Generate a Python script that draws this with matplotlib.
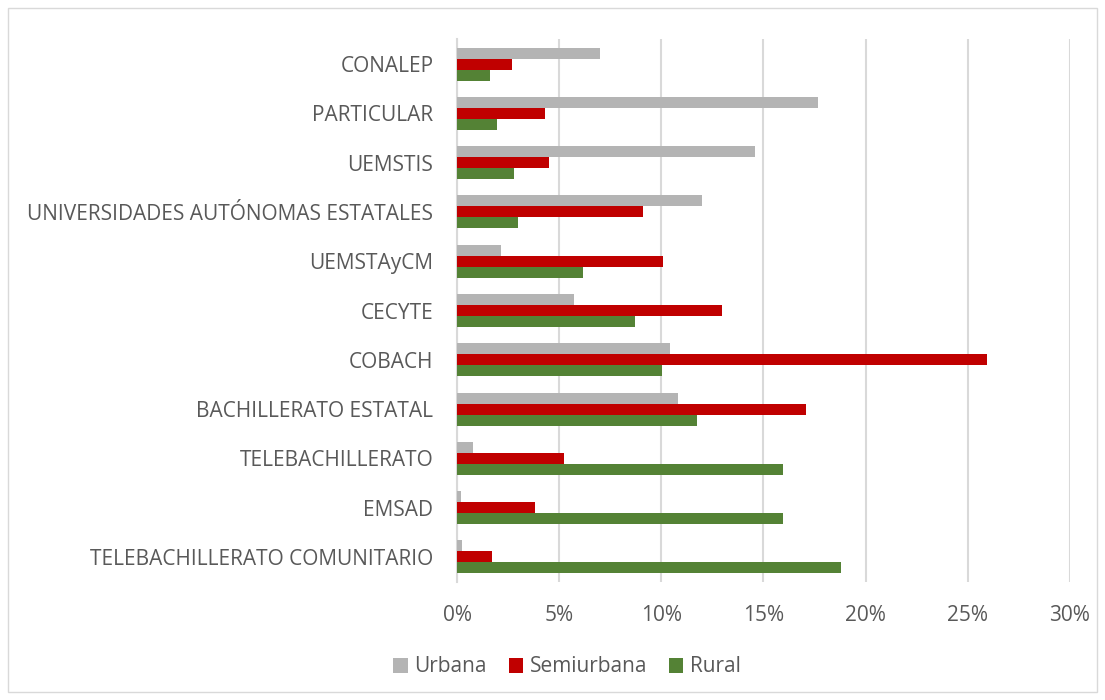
import matplotlib.pyplot as plt
import numpy as np
from matplotlib.patches import Rectangle
from matplotlib.ticker import FuncFormatter

# categories from bottom to top
categorias = [
    "TELEBACHILLERATO COMUNITARIO",
    "EMSAD",
    "TELEBACHILLERATO",
    "BACHILLERATO ESTATAL",
    "COBACH",
    "CECYTE",
    "UEMSTAyCM",
    "UNIVERSIDADES AUTÓNOMAS ESTATALES",
    "UEMSTIS",
    "PARTICULAR",
    "CONALEP",
]
urbana = [0.24, 0.21, 0.77, 10.83, 10.42, 5.74, 2.17, 12.0, 14.6, 17.68, 7.02]
semiurbana = [1.73, 3.80, 5.22, 17.08, 25.93, 12.97, 10.08, 9.12, 4.51, 4.30, 2.67]
rural = [18.78, 15.96, 15.95, 11.73, 10.03, 8.72, 6.16, 2.98, 2.80, 1.96, 1.63]

plt.rcParams['font.family'] = ['Open Sans', 'DejaVu Sans']
gris_texto = '#595959'

fig = plt.figure(figsize=(11.05, 7.0), dpi=100)
ax = fig.add_axes([0.4136, 0.1691, 0.9683 - 0.4136, 0.9437 - 0.1691])

y = np.arange(len(categorias))
h = 0.223
ax.barh(y + h, urbana, height=h, color='#b4b4b4', label='Urbana', zorder=3)
ax.barh(y, semiurbana, height=h, color='#c00000', label='Semiurbana', zorder=3)
ax.barh(y - h, rural, height=h, color='#548235', label='Rural', zorder=3)

ax.set_xlim(0, 30)
ax.set_ylim(-0.5, len(categorias) - 0.5)
ax.set_xticks(np.arange(0, 31, 5))
ax.xaxis.set_major_formatter(FuncFormatter(lambda v, p: f"{v:.0f}%"))
ax.set_yticks(y)
ax.set_yticklabels(categorias)
ax.tick_params(axis='both', length=0, labelsize=15, colors=gris_texto)
ax.tick_params(axis='x', pad=17)
ax.tick_params(axis='y', pad=17)
ax.grid(axis='x', color='#d9d9d9', linewidth=1.5, zorder=0)
for s in ['top', 'right', 'bottom']:
    ax.spines[s].set_visible(False)
ax.spines['left'].set_color('#d9d9d9')
ax.spines['left'].set_linewidth(1.5)

fig.legend(loc='center', bbox_to_anchor=(567 / 1105, 1 - 667 / 700), ncol=3,
           frameon=False, fontsize=15, labelcolor=gris_texto,
           handlelength=0.7, handleheight=0.7, handletextpad=0.3,
           columnspacing=1.05)

fig.patches.append(Rectangle((8 / 1105, 8 / 700), 1 - 16 / 1105, 1 - 16 / 700,
                             transform=fig.transFigure, fill=False,
                             edgecolor='#d9d9d9', linewidth=1))

plt.savefig("out.png", dpi=100)
plt.close()
